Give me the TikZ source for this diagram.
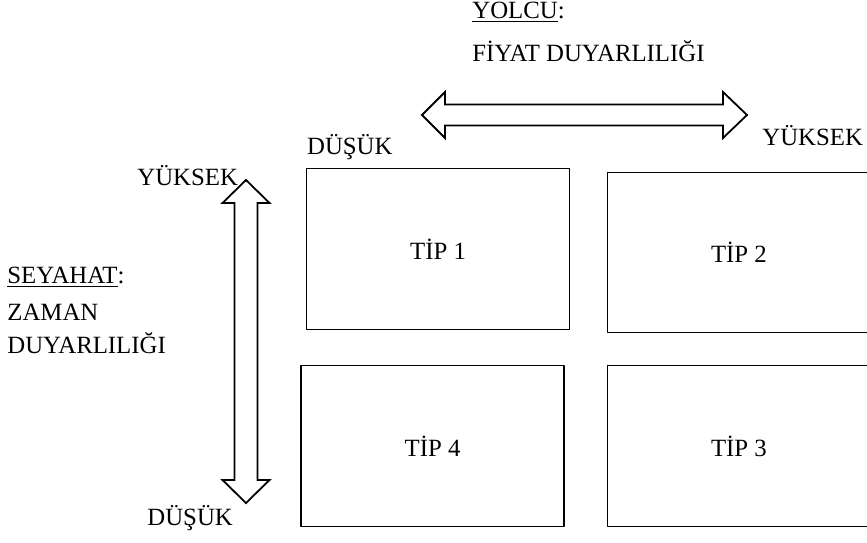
\documentclass[tikz,border=0pt]{standalone}
\usepackage{fontspec}
\setmainfont{Liberation Serif}
\begin{document}
\begin{tikzpicture}[x=0.5pt,y=-0.5pt,font=\fontsize{12.4}{14}\selectfont,line join = round,
	tipbox/.style={draw,line width=0.6pt,inner sep=0pt},
	lbl/.style={anchor=base west,inner sep=0pt},
	bigarrow/.style={draw,line width=0.9pt,line join=miter}]
			\useasboundingbox (0,0) rectangle (867,542);
			\clip (0,0) rectangle (867,542);
			% dort tip kutusu
			\node[tipbox,minimum width=131.3pt,minimum height=80.5pt] (tip1) at (438,248.8) {T\.IP 1};
			\node[tipbox,minimum width=131.2pt,minimum height=80.2pt] (tip2) at (738.9,252.5) {T\.IP 2};
			\node[tipbox,minimum width=131.5pt,minimum height=80.5pt] (tip4) at (432.5,446.2) {T\.IP 4};
			\node[tipbox,minimum width=131.2pt,minimum height=80.5pt] (tip3) at (738.9,446.2) {T\.IP 3};
			% yatay ok: fiyat duyarliligi
			\draw[bigarrow] (422,115)--(445,92)--(445,104.5)--(723,104.5)--(723,92)--(747,115)--(723,138)--(723,125.5)--(445,125.5)--(445,138)--cycle;
			% dikey ok: zaman duyarliligi
			\draw[bigarrow] (246,180)--(269.5,203)--(257.5,203)--(257.5,480)--(269.5,480)--(246,503)--(222.5,480)--(234.5,480)--(234.5,203)--(222.5,203)--cycle;
			\node[lbl] (yolcu) at (472,18.3) {\underline{YOLCU}:};
			\node[lbl] (fiyat) at (472,61.7) {F\.IYAT DUYARLILI\u{G}I};
			\node[lbl] (hdusuk) at (306.7,154) {D\"U\c{S}\"UK};
			\node[lbl] (hyuksek) at (762,145) {Y\"UKSEK};
			\node[lbl] (vyuksek) at (137,185) {Y\"UKSEK};
			\node[lbl] (vdusuk) at (147,525) {D\"U\c{S}\"UK};
			\node[lbl] (seyahat) at (7,283.3) {\underline{SEYAHAT}:};
			\node[lbl] (zaman) at (7,320) {ZAMAN};
			\node[lbl] (zduyar) at (7,353.3) {DUYARLILI\u{G}I};
			\end{tikzpicture}
\end{document}
